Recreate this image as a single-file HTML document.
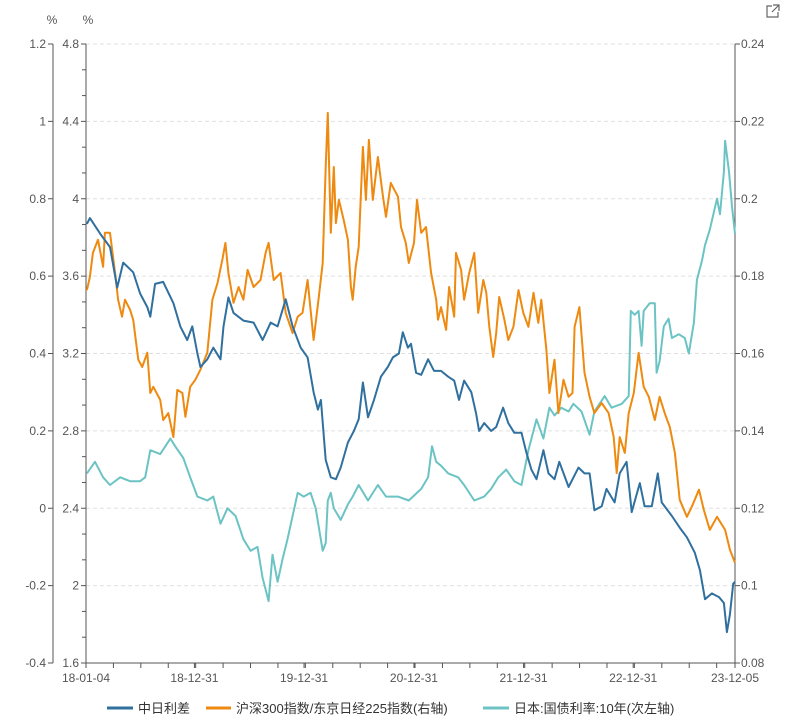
<!DOCTYPE html>
<html><head><meta charset="utf-8">
<style>
html,body{margin:0;padding:0;background:#fff;}
body{width:785px;height:720px;overflow:hidden;font-family:"Liberation Sans","Noto Sans CJK SC",sans-serif;}
svg text{font-family:"Liberation Sans","Noto Sans CJK SC",sans-serif;}
</style></head>
<body>
<svg id="chart" width="785" height="720" xmlns="http://www.w3.org/2000/svg">
  <g id="grid"></g>
  <g id="axes"></g>
  <g id="series"></g>
  <text x="52" y="24" font-size="12" fill="#555" text-anchor="middle">%</text>
  <text x="88" y="24" font-size="12" fill="#555" text-anchor="middle">%</text>
  <g stroke="#666" stroke-width="1.2" fill="none">
    <path d="M772 6 H767 V17 H778 V12"/>
    <path d="M773 5 H779 V11 M779 5 L772 12"/>
  </g>
  <g id="legend">
    <g>
      <line x1="107" y1="708" x2="133" y2="708" stroke="#30709f" stroke-width="3"/>
      <text x="138" y="713" font-size="13" fill="#333">中日利差</text>
    </g>
    <g>
      <line x1="206" y1="708" x2="231" y2="708" stroke="#ee8a10" stroke-width="3"/>
      <text x="236" y="713" font-size="13" fill="#333">沪深300指数/东京日经225指数(右轴)</text>
    </g>
    <g>
      <line x1="483" y1="708" x2="509" y2="708" stroke="#6cc3c4" stroke-width="3"/>
      <text x="514" y="713" font-size="13" fill="#333">日本:国债利率:10年(次左轴)</text>
    </g>
  </g>
</svg>
<script>
// x = days since 2018-01-04
const spreadDays=[3,13,47,80,104,124,157,180,204,214,230,257,291,314,337,354,371,381,404,424,448,458,474,491,524,558,588,615,638,665,688,715,738,758,772,782,798,815,832,848,872,892,908,922,939,959,982,1005,1022,1042,1055,1072,1082,1099,1116,1139,1159,1182,1206,1226,1242,1259,1283,1299,1309,1326,1349,1366,1389,1406,1426,1450,1466,1483,1500,1523,1540,1560,1576,1607,1640,1660,1677,1693,1717,1733,1760,1777,1800,1817,1844,1860,1884,1904,1917,1951,1977,2001,2027,2044,2061,2084,2108,2124,2134,2144,2155,2161];
const spreadVals=[3.87,3.90,3.82,3.75,3.54,3.67,3.62,3.51,3.44,3.39,3.56,3.57,3.46,3.34,3.27,3.34,3.20,3.13,3.17,3.23,3.17,3.34,3.49,3.41,3.37,3.36,3.27,3.36,3.34,3.48,3.34,3.23,3.18,3.00,2.91,2.96,2.65,2.56,2.55,2.61,2.74,2.80,2.86,3.05,2.87,2.96,3.08,3.13,3.18,3.20,3.31,3.23,3.25,3.10,3.09,3.17,3.11,3.11,3.08,3.06,2.96,3.06,3.00,2.89,2.80,2.84,2.80,2.82,2.92,2.84,2.79,2.79,2.69,2.60,2.55,2.70,2.58,2.55,2.64,2.51,2.61,2.58,2.58,2.39,2.41,2.50,2.43,2.58,2.64,2.38,2.53,2.41,2.41,2.58,2.43,2.36,2.30,2.25,2.17,2.08,1.93,1.96,1.94,1.91,1.76,1.85,2.01,2.02];
const ratioDays=[3,13,23,40,57,63,80,97,107,120,130,147,157,174,187,204,214,224,247,257,274,291,304,321,331,347,364,381,404,421,438,454,464,474,491,508,524,538,558,581,598,608,625,648,665,688,705,721,738,758,775,788,798,805,808,815,825,832,842,858,872,882,888,898,908,922,932,942,955,972,989,999,1015,1039,1049,1065,1075,1092,1102,1116,1132,1149,1166,1172,1182,1199,1209,1226,1232,1249,1259,1276,1293,1306,1323,1333,1343,1356,1366,1376,1393,1406,1423,1440,1456,1473,1490,1506,1516,1533,1543,1560,1573,1590,1607,1620,1627,1643,1660,1677,1693,1717,1740,1757,1767,1777,1794,1807,1824,1840,1857,1874,1894,1910,1927,1944,1961,1977,2001,2017,2041,2057,2077,2101,2128,2144,2161];
const ratioVals=[.1764,.1798,.1860,.1894,.1824,.1912,.1912,.1808,.1739,.1695,.1739,.1713,.1687,.1584,.1565,.1602,.1498,.1514,.1480,.1428,.1446,.1384,.1506,.1498,.1436,.1514,.1532,.1558,.1602,.1739,.1782,.1842,.1886,.1808,.1731,.1772,.1739,.1816,.1772,.1790,.1860,.1886,.1790,.1808,.1705,.1653,.1695,.1705,.1790,.1635,.1746,.1834,.2082,.2222,.2126,.1912,.2082,.1937,.1997,.1945,.1894,.1772,.1739,.1824,.1876,.2134,.1997,.2152,.1997,.2108,.2005,.1953,.2041,.2005,.1927,.1886,.1834,.1886,.1997,.1912,.1927,.1808,.1739,.1687,.1720,.1661,.1772,.1695,.1860,.1816,.1739,.1808,.1860,.1705,.1790,.1757,.1669,.1591,.1653,.1746,.1687,.1635,.1669,.1764,.1705,.1669,.1757,.1679,.1739,.1609,.1498,.1584,.1446,.1532,.1488,.1498,.1669,.1720,.1550,.1488,.1446,.1472,.1446,.1384,.1291,.1384,.1343,.1446,.1498,.1602,.1514,.1488,.1428,.1488,.1446,.1410,.1343,.1222,.1178,.1204,.1248,.1196,.1144,.1178,.1144,.1093,.1059];
const jgbDays=[3,30,57,80,114,147,180,197,214,247,281,297,324,347,371,404,424,448,471,498,524,548,571,588,608,621,638,655,671,688,705,725,748,765,788,798,805,815,825,848,872,888,908,939,972,999,1039,1075,1116,1139,1152,1166,1182,1206,1239,1259,1293,1326,1349,1373,1399,1426,1450,1473,1500,1523,1543,1560,1583,1607,1623,1650,1677,1693,1727,1750,1784,1807,1814,1827,1840,1850,1857,1877,1894,1900,1910,1924,1940,1951,1974,1994,2007,2024,2034,2051,2061,2077,2101,2111,2124,2128,2141,2151,2161];
const jgbVals=[.09,.12,.08,.06,.08,.07,.07,.08,.15,.14,.18,.16,.13,.08,.03,.02,.03,-.04,.00,-.02,-.08,-.11,-.10,-.18,-.24,-.12,-.19,-.13,-.08,-.02,.04,.03,.04,.00,-.11,-.09,.02,.04,.00,-.03,.01,.03,.06,.02,.06,.03,.03,.02,.05,.08,.16,.12,.11,.09,.08,.06,.02,.03,.05,.08,.10,.07,.06,.15,.23,.18,.26,.24,.26,.25,.27,.25,.19,.25,.29,.26,.27,.29,.51,.50,.51,.42,.51,.53,.53,.35,.38,.47,.49,.44,.45,.44,.40,.48,.59,.64,.68,.72,.80,.76,.87,.95,.87,.78,.71];
const outerTicks=[-0.4,-0.2,0,0.2,0.4,0.6,0.8,1,1.2];
const innerTicks=[1.6,2,2.4,2.8,3.2,3.6,4,4.4,4.8];
const rightTicks=[0.08,0.1,0.12,0.14,0.16,0.18,0.2,0.22,0.24];
const xLabelDays=[0,361,726,1092,1457,1822,2161];
const xLabels=['18-01-04','18-12-31','19-12-31','20-12-31','21-12-31','22-12-31','23-12-05'];

const NS='http://www.w3.org/2000/svg';
const L=86,R=735,T=44,B=663,DMAX=2161;
const xS=d=>L+(d/DMAX)*(R-L);
const yOuter=v=>B-(v+0.4)/1.6*(B-T);
const yInner=v=>B-(v-1.6)/3.2*(B-T);
const yRight=v=>B-(v-0.08)/0.16*(B-T);
function mk(tag,attrs,parent){const e=document.createElementNS(NS,tag);for(const k in attrs)e.setAttribute(k,attrs[k]);parent.appendChild(e);return e;}
const grid=document.getElementById('grid'),axes=document.getElementById('axes'),series=document.getElementById('series');

innerTicks.forEach((v,i)=>{
  const y=yInner(v);
  if(i>0){const g=mk('line',{x1:L,x2:R,y1:y,y2:y,stroke:'#e0e0e0','stroke-dasharray':'4,3'},grid);
  
  }
  mk('line',{x1:L-5,x2:L,y1:y,y2:y,stroke:'#555'},axes);
  const t=mk('text',{x:L-7,y:y+4,'font-size':12,fill:'#555','text-anchor':'end'},axes);t.textContent=String(v);
  
  
  if(i<innerTicks.length-1){for(let k=1;k<3;k++){const yy=y-(B-T)/8*k/3;mk('line',{x1:L-4,x2:L,y1:yy,y2:yy,stroke:'#555'},axes);}}
});
outerTicks.forEach(v=>{
  const y=yOuter(v);
  mk('line',{x1:48,x2:53,y1:y,y2:y,stroke:'#555'},axes);
  const t=mk('text',{x:46,y:y+4,'font-size':12,fill:'#555','text-anchor':'end'},axes);t.textContent=String(v);
  
  
});
rightTicks.forEach(v=>{
  const y=yRight(v);
  mk('line',{x1:R,x2:R+5,y1:y,y2:y,stroke:'#555'},axes);
  const t=mk('text',{x:R+6,y:y+4,'font-size':12,fill:'#555'},axes);t.textContent=v.toFixed(2).replace(/0$/,'');
  
  
});
mk('line',{x1:53,x2:53,y1:T,y2:B,stroke:'#555'},axes);
mk('line',{x1:L,x2:L,y1:T,y2:B,stroke:'#555'},axes);
mk('line',{x1:R,x2:R,y1:T,y2:B,stroke:'#555'},axes);
mk('line',{x1:L,x2:R,y1:B,y2:B,stroke:'#555'},axes);
for(let d=0;d<=DMAX;d+=91.3){const x=xS(d);mk('line',{x1:x,x2:x,y1:B,y2:B+5,stroke:'#555'},axes);}
xLabels.forEach((s,i)=>{
  const x=xS(xLabelDays[i]);
  mk('line',{x1:x,x2:x,y1:B,y2:B+5,stroke:'#555'},axes);
  const t=mk('text',{x:x,y:B+19,'font-size':12,fill:'#555','text-anchor':'middle'},axes);t.textContent=s;
  
  
});
function line(days,vals,yf,color,name){
  const d=days.map((dd,i)=>(i?'L':'M')+xS(dd).toFixed(1)+' '+yf(vals[i]).toFixed(1)).join(' ');
  const p=mk('path',{d:d,fill:'none',stroke:color,'stroke-width':2,'stroke-linejoin':'round'},series);
  
  
}
line(jgbDays,jgbVals,yOuter,'#6cc3c4','japan-10y-line');
line(ratioDays,ratioVals,yRight,'#ee8a10','index-ratio-line');
line(spreadDays,spreadVals,yInner,'#30709f','spread-line');
</script>
</body></html>
